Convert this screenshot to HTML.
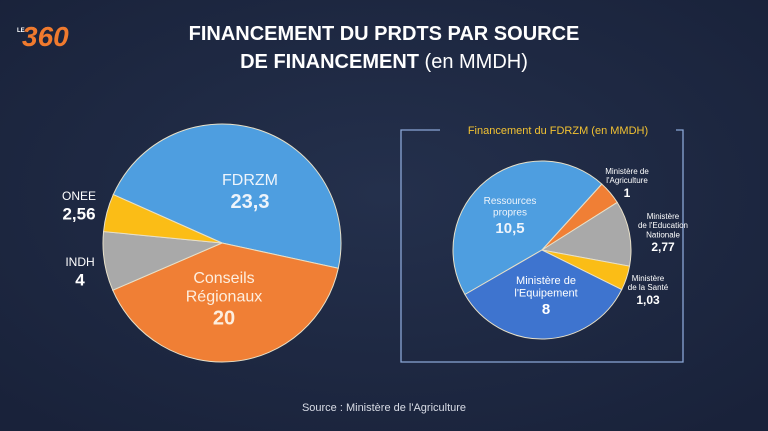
<!DOCTYPE html>
<html><head><meta charset="utf-8"><style>
body{margin:0;width:768px;height:431px;background:#1f2942;overflow:hidden;font-family:"Liberation Sans",sans-serif}
svg{display:block}
</style></head><body>
<svg width="768" height="431">
<defs><radialGradient id="bg" cx="50%" cy="45%" r="70%"><stop offset="0" stop-color="#24304c"/><stop offset="1" stop-color="#19223a"/></radialGradient></defs>
<rect width="768" height="431" fill="url(#bg)"/>
<g>
<text x="17" y="32" font-size="6" fill="#fff" font-weight="bold">LE</text>
<text x="22" y="46" font-size="28" font-weight="bold" fill="#f07a2e" font-style="italic">360</text>
</g>
<text x="384" y="40" text-anchor="middle" font-size="20" font-weight="bold" fill="#fff">FINANCEMENT DU PRDTS PAR SOURCE</text>
<text x="384" y="68" text-anchor="middle" font-size="20" fill="#fff"><tspan font-weight="bold">DE FINANCEMENT</tspan> (en MMDH)</text>
<g id="left"></g>
<path d="M440,130 H401 V362 H683 V130 H676" fill="none" stroke="#8aa6d6" stroke-width="1.3"/>
<text x="558" y="134" text-anchor="middle" font-size="11" fill="#f2c232">Financement du FDRZM (en MMDH)</text>
<g id="right"></g>
<text x="384" y="411" text-anchor="middle" font-size="11" fill="#d8dce6">Source : Ministère de l'Agriculture</text>
</svg>
<script>
const leftCats=["FDRZM","Conseils Régionaux","INDH","ONEE"];
const leftVals=[23.3,20,4,2.56];
const leftColors=["#4e9ee0","#f07f35","#a9a9a9","#fbbd16"];
const rightCats=["Ressources propres","Ministère de l'Agriculture","Ministère de l'Education Nationale","Ministère de la Santé","Ministère de l'Equipement"];
const rightVals=[10.5,1,2.77,1.03,8];
const rightColors=["#4e9ee0","#f07f35","#a9a9a9","#fbbd16","#3e74cf"];
const NS="http://www.w3.org/2000/svg";
function pie(g,vals,colors,cats,cx,cy,r,start){
  const tot=vals.reduce((a,b)=>a+b,0);let a=start*Math.PI/180;
  vals.forEach((v,i)=>{const da=v/tot*2*Math.PI;const a2=a+da;
    const p=document.createElementNS(NS,"path");
    const x1=cx+r*Math.cos(a),y1=cy+r*Math.sin(a),x2=cx+r*Math.cos(a2),y2=cy+r*Math.sin(a2);
    p.setAttribute("d",`M${cx},${cy}L${x1},${y1}A${r},${r} 0 ${da>Math.PI?1:0} 1 ${x2},${y2}Z`);
    p.setAttribute("fill",colors[i]);p.setAttribute("stroke","#e8e0c8");p.setAttribute("stroke-width","1");
    
    
    g.appendChild(p);a=a2;});
}
pie(document.getElementById("left"),leftVals,leftColors,leftCats,222,243,119,-156);
pie(document.getElementById("right"),rightVals,rightColors,rightCats,542,250,89,150);
function fmt(v){return String(v).replace('.',',');}
function lab(lines,x,y,size,valSize,val,color,anchor){
  const t=document.createElementNS(NS,"text");t.setAttribute("x",x);t.setAttribute("y",y);
  t.setAttribute("text-anchor",anchor||"middle");t.setAttribute("fill",color||"#fff");
  
  
  lines.forEach((l,k)=>{const s=document.createElementNS(NS,"tspan");s.setAttribute("x",x);s.setAttribute("dy",k?size*1.15:0);s.setAttribute("font-size",size);s.textContent=l;t.appendChild(s);});
  const s=document.createElementNS(NS,"tspan");s.setAttribute("x",x);s.setAttribute("dy",valSize*1.15);s.setAttribute("font-size",valSize);s.setAttribute("font-weight","bold");s.textContent=fmt(val);t.appendChild(s);
  document.querySelector("svg").appendChild(t);
}
lab(["FDRZM"],250,185,16,20,leftVals[0],"#eef4fb");
lab(["Conseils","Régionaux"],224,283,16,20,leftVals[1],"#fdeede");
lab(["INDH"],80,266,12,17,leftVals[2]);
lab(["ONEE"],79,200,12,17,leftVals[3]);
lab(["Ressources","propres"],510,204,10,15,rightVals[0],"#eef4fb");
lab(["Ministère de","l'Equipement"],546,284,11,15,rightVals[4]);
lab(["Ministère de","l'Agriculture"],627,174,8,12,rightVals[1]);
lab(["Ministère","de l'Education","Nationale"],663,219,8,12,rightVals[2]);
lab(["Ministère","de la Santé"],648,281,8,12,rightVals[3]);
</script>
</body></html>
